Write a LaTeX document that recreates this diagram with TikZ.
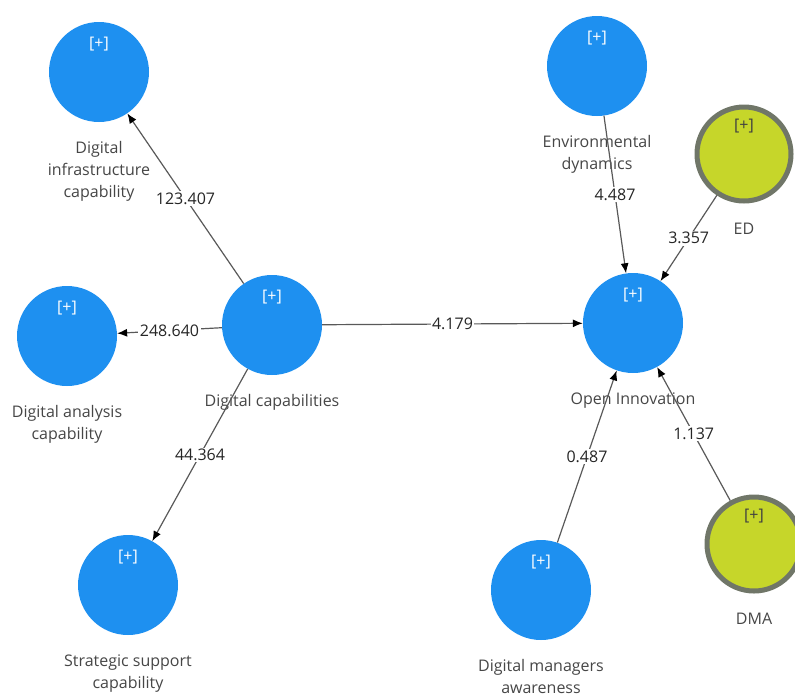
\documentclass[tikz,border=0pt]{standalone}
\usepackage{fontspec}
\setmainfont{Open Sans}
\usepackage{tikz}
\usetikzlibrary{arrows.meta,positioning}

\definecolor{lvblue}{RGB}{30,144,240}
\definecolor{modyellow}{RGB}{198,214,42}
\definecolor{modgrey}{RGB}{112,118,104}
\definecolor{txtgrey}{RGB}{70,70,70}

\begin{document}
\begin{tikzpicture}[x=1pt,y=-1pt,
    lv/.style={circle,fill=lvblue,minimum size=100pt,inner sep=0pt,text=white,font=\fontsize{16}{16}\selectfont,text height=12pt,text depth=60pt},
    mod/.style={lv,fill=modyellow,draw=modgrey,line width=5pt,minimum size=94pt,text=black!75},
    lvname/.style={align=center,inner sep=0pt,text=txtgrey,font=\fontsize{16}{22}\selectfont},
    link/.style={draw=black!65,line width=1.2pt,-{Latex[length=10pt,width=8pt,black]}},
    val/.style={fill=white,inner sep=1.5pt,text=black!85,font=\fontsize{16}{16}\selectfont}]
\useasboundingbox (0,0) rectangle (795,697);
\node[lv] (Infra) at (99,72) {[+]};
\node[lv] (DigCap) at (272,325) {[+]};
\node[lv] (Analysis) at (67,336) {[+]};
\node[lv] (Strategic) at (128,585) {[+]};
\node[lv] (EnvDyn) at (597,66) {[+]};
\node[mod] (ED) at (744,154) {[+]};
\node[lv] (OpenInn) at (633,323) {[+]};
\node[lv] (DMAware) at (541,590) {[+]};
\node[mod] (DMA) at (754,544) {[+]};

\node[lvname,below=19pt of Infra] (InfraT) {Digital\\infrastructure\\capability};
\node[lvname,below=19pt of DigCap] (DigCapT) {Digital capabilities};
\node[lvname,below=19pt of Analysis] (AnalysisT) {Digital analysis\\capability};
\node[lvname,below=19pt of Strategic] (StrategicT) {Strategic support\\capability};
\node[lvname,below=19pt of EnvDyn] (EnvDynT) {Environmental\\dynamics};
\node[lvname,below=19pt of ED] (EDT) {ED};
\node[lvname,below=19pt of OpenInn] (OpenInnT) {Open Innovation};
\node[lvname,below=19pt of DMAware] (DMAwareT) {Digital managers\\awareness};
\node[lvname,below=19pt of DMA] (DMAT) {DMA};

\draw[link] (DigCap) -- node[val]{123.407} (Infra);
\draw[link] (DigCap) -- node[val]{248.640} (Analysis);
\draw[link] (DigCap) -- node[val]{44.364} (Strategic);
\draw[link] (DigCap) -- node[val]{4.179} (OpenInn);
\draw[link] (EnvDyn) -- node[val]{4.487} (OpenInn);
\draw[link] (ED) -- node[val]{3.357} (OpenInn);
\draw[link] (DMAware) -- node[val]{0.487} (OpenInn);
\draw[link] (DMA) -- node[val]{1.137} (OpenInn);
\end{tikzpicture}
\end{document}
